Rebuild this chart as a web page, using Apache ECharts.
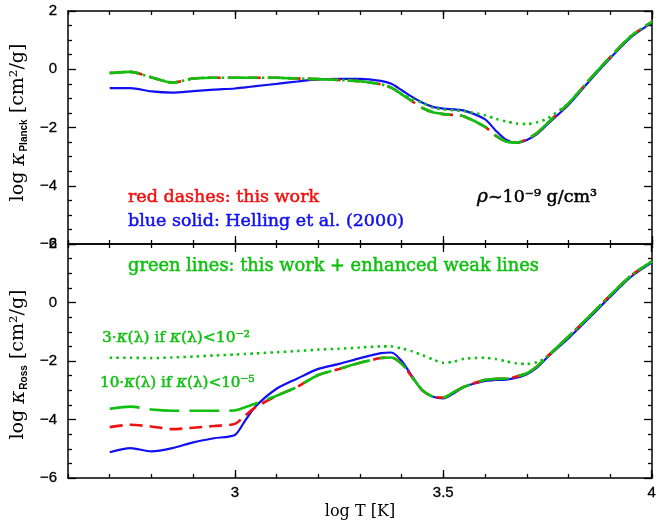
<!DOCTYPE html>
<html>
<head>
<meta charset="utf-8">
<script src="https://cdn.jsdelivr.net/npm/echarts@6/dist/echarts.min.js"></script>
<style>
  html, body { margin: 0; padding: 0; background: #fff; }
  #chart { width: 659px; height: 525px; }
</style>
</head>
<body>
<div id="chart"></div>
<script>
// log T grid shared by every curve
var logT = [2.70, 2.75, 2.80, 2.85, 2.90, 2.95, 3.00, 3.025, 3.05, 3.10, 3.15, 3.20, 3.25, 3.30, 3.35, 3.375,
  3.40, 3.425, 3.45, 3.475, 3.50, 3.525, 3.55, 3.60, 3.625, 3.65, 3.675, 3.70, 3.725, 3.75, 3.80, 3.85, 3.90, 3.95, 4.00]

// upper panel: log kappa Planck
var planckHelling = [-0.65, -0.65, -0.76, -0.80, -0.75, -0.70, -0.66, -0.62, -0.58, -0.50, -0.42, -0.35, -0.33, -0.33, -0.40, -0.50,
  -0.72, -0.95, -1.15, -1.29, -1.35, -1.38, -1.42, -1.72, -2.10, -2.42, -2.53, -2.43, -2.22, -1.88, -1.22, -0.40, 0.38, 1.10, 1.60]
var planckThis = [-0.13, -0.09, -0.28, -0.46, -0.32, -0.29, -0.29, -0.29, -0.29, -0.29, -0.32, -0.34, -0.37, -0.41, -0.52, -0.63,
  -0.86, -1.10, -1.33, -1.48, -1.54, -1.57, -1.62, -1.98, -2.28, -2.48, -2.52, -2.40, -2.18, -1.84, -1.17, -0.36, 0.42, 1.14, 1.63]
var planckEnhanced = planckThis
var planckDotted = [-0.13, -0.09, -0.28, -0.46, -0.32, -0.29, -0.29, -0.29, -0.29, -0.29, -0.32, -0.34, -0.37, -0.41, -0.52, -0.63,
  -0.86, -1.02, -1.16, -1.32, -1.38, -1.41, -1.44, -1.58, -1.70, -1.79, -1.86, -1.88, -1.82, -1.68, -1.17, -0.36, 0.42, 1.14, 1.63]

// lower panel: log kappa Rosseland
var rossHelling = [-5.12, -4.98, -5.09, -4.98, -4.78, -4.64, -4.53, -4.03, -3.55, -2.95, -2.60, -2.27, -2.10, -1.90, -1.73, -1.71,
  -2.00, -2.53, -3.01, -3.22, -3.28, -3.10, -2.88, -2.68, -2.65, -2.64, -2.57, -2.45, -2.22, -1.86, -1.22, -0.52, 0.20, 0.88, 1.37]
var rossThis = [-4.26, -4.18, -4.24, -4.33, -4.28, -4.22, -4.15, -3.86, -3.58, -3.19, -2.88, -2.48, -2.27, -2.06, -1.90, -1.88,
  -2.10, -2.55, -3.01, -3.22, -3.25, -3.06, -2.88, -2.64, -2.61, -2.60, -2.53, -2.42, -2.18, -1.83, -1.16, -0.47, 0.25, 0.92, 1.41]
var rossEnhanced = [-3.63, -3.56, -3.66, -3.70, -3.70, -3.70, -3.69, -3.58, -3.45, -3.19, -2.88, -2.48, -2.27, -2.06, -1.90, -1.88,
  -2.10, -2.55, -3.01, -3.22, -3.25, -3.06, -2.88, -2.64, -2.61, -2.60, -2.53, -2.42, -2.18, -1.83, -1.16, -0.47, 0.25, 0.92, 1.41]
var rossDotted = [-1.89, -1.89, -1.90, -1.88, -1.85, -1.81, -1.78, -1.76, -1.74, -1.70, -1.66, -1.61, -1.58, -1.54, -1.50, -1.50,
  -1.57, -1.67, -1.80, -1.95, -2.06, -2.02, -1.92, -1.89, -1.93, -2.01, -2.08, -2.10, -2.04, -1.85, -1.16, -0.47, 0.25, 0.92, 1.41]

// x range and ticks
var xMin = 2.6, xMax = 4.0
var xMajorStart = 3.0, xMajorStep = 0.5, xMinorStep = 0.1

var RED = '#f01010'
var BLUE = '#1010f0'
var GREEN = '#10c010'
var axisFont = 'Liberation Sans'
var textFont = 'DejaVu Serif'

// frame geometry
var W = 659, LEFT = 68, RIGHT = 7
var plotW = W - LEFT - RIGHT
// major-tick helper grids start where log T = 3
var majorLeft = LEFT + (xMajorStart - xMin) / (xMax - xMin) * plotW
var panels = [{ top: 11, height: 233 }, { top: 244, height: 234 }]

function pairs(ys) {
  return logT.map(function (t, i) { return [t, ys[i]] })
}

var tickStyle = { color: '#000', width: 1.3 }

function frameX(gridIndex, position) {
  return {
    gridIndex: gridIndex, type: 'value', position: position,
    min: xMin, max: xMax, interval: xMinorStep,
    splitLine: { show: false }, axisLabel: { show: false },
    axisLine: { show: true, onZero: false, lineStyle: { color: '#000', width: 1.5 } },
    axisTick: { show: true, inside: true, length: 4, lineStyle: tickStyle }
  }
}

function majorX(gridIndex, position, withLabels) {
  var ax = {
    gridIndex: gridIndex, type: 'value', position: position,
    min: xMajorStart, max: xMax, interval: xMajorStep,
    splitLine: { show: false },
    axisLine: { show: true, onZero: false, lineStyle: { color: 'rgba(0,0,0,0)' } },
    axisTick: { show: true, inside: true, length: 8, lineStyle: tickStyle },
    axisLabel: { show: false }
  }
  if (withLabels) {
    ax.axisLabel = {
      show: true, margin: 7, color: '#000', fontFamily: axisFont, fontSize: 15,
      textBorderColor: '#000', textBorderWidth: 0.3
    }
  }
  return ax
}

function yAxes(gridIndex, sub, pad) {
  var common = {
    gridIndex: gridIndex, type: 'value', min: -6, max: 2, interval: 2,
    splitLine: { show: false },
    axisLine: { show: true, onZero: false, lineStyle: { color: '#000', width: 1.5 } },
    axisTick: { show: true, inside: true, length: 8, lineStyle: tickStyle },
    minorTick: { show: true, splitNumber: 4, length: 4, lineStyle: tickStyle }
  }
  var left = Object.assign({}, common, {
    position: 'left',
    axisLabel: {
      color: '#000', fontFamily: axisFont, fontSize: 15, margin: 11,
      textBorderColor: '#000', textBorderWidth: 0.3,
      formatter: function (v) { return String(v).replace('-', '\u2212') }
    },
    name: '{a|log }{k|\u03ba}{s|' + sub + '}{a| [cm\u00b2/g]}',
    nameLocation: 'middle',
    nameGap: 35,
    nameTextStyle: {
      padding: pad,
      rich: {
        a: { fontFamily: textFont, fontSize: 19, color: '#000' },
        k: { fontFamily: textFont, fontSize: 20, fontStyle: 'italic', color: '#000' },
        s: { fontFamily: axisFont, fontSize: 10, fontWeight: 'bold', color: '#000', padding: [11, 0, 0, 1] }
      }
    }
  })
  var right = Object.assign({}, common, { position: 'right', axisLabel: { show: false } })
  return [left, right]
}

function hiddenY(gridIndex) {
  return { gridIndex: gridIndex, type: 'value', min: -6, max: 2, show: false }
}

function line(name, xi, yi, ys, color, type, width, z) {
  return {
    name: name, type: 'line', xAxisIndex: xi, yAxisIndex: yi,
    data: pairs(ys), showSymbol: false, smooth: 0.25, z: z,
    lineStyle: { color: color, type: type, width: width }
  }
}

function label(x, y, text, color, size) {
  return {
    type: 'text', x: x, y: y,
    style: {
      text: text, fill: color, font: size + 'px "DejaVu Serif"', verticalAlign: 'middle',
      stroke: color, lineWidth: 0.5,
      rich: { k: { fontStyle: 'italic', fontFamily: textFont, fontSize: size + 1, fill: color, stroke: color, lineWidth: 0.5 } }
    }
  }
}

var bottomFrame = frameX(1, 'bottom')
bottomFrame.name = 'log T [K]'
bottomFrame.nameLocation = 'middle'
bottomFrame.nameGap = 26
bottomFrame.nameTextStyle = { color: '#000', fontFamily: textFont, fontSize: 16 }

var chart = echarts.init(document.getElementById('chart'))
chart.setOption({
  animation: false,
  backgroundColor: '#fff',
  grid: [
    { left: LEFT, right: RIGHT, top: panels[0].top, height: panels[0].height },
    { left: LEFT, right: RIGHT, top: panels[1].top, height: panels[1].height },
    { left: majorLeft, right: RIGHT, top: panels[0].top, height: panels[0].height },
    { left: majorLeft, right: RIGHT, top: panels[1].top, height: panels[1].height }
  ],
  xAxis: [
    frameX(0, 'bottom'), frameX(0, 'top'),
    bottomFrame, frameX(1, 'top'),
    majorX(2, 'bottom', false), majorX(2, 'top', false),
    majorX(3, 'bottom', true), majorX(3, 'top', false)
  ],
  yAxis: yAxes(0, 'Planck', [0, 0, 0, 10]).concat(yAxes(1, 'Ross', [0, 7, 0, 0]), [hiddenY(2), hiddenY(3)]),
  series: [
    line('Helling Planck', 0, 0, planckHelling, BLUE, 'solid', 2.2, 2),
    line('this work Planck', 0, 0, planckThis, RED, [13, 7], 2.6, 3),
    line('enhanced Planck', 0, 0, planckEnhanced, GREEN, [30, 10], 2.6, 4),
    line('3x Planck', 0, 0, planckDotted, GREEN, [2.5, 4.2], 2.6, 5),
    line('Helling Ross', 2, 2, rossHelling, BLUE, 'solid', 2.2, 2),
    line('this work Ross', 2, 2, rossThis, RED, [13, 7], 2.6, 3),
    line('10x Ross', 2, 2, rossEnhanced, GREEN, [30, 10], 2.6, 4),
    line('3x Ross', 2, 2, rossDotted, GREEN, [2.5, 4.2], 2.6, 5)
  ],
  graphic: [
    label(128, 197, 'red dashes: this work', RED, 17.5),
    label(128, 221, 'blue solid: Helling et al. (2000)', BLUE, 17.5),
    label(477, 197, '{k|\u03c1}~10\u207b\u2079 g/cm\u00b3', '#000', 17.5),
    label(128, 266, 'green lines: this work + enhanced weak lines', GREEN, 17.8),
    label(102, 338, '3\u00b7{k|\u03ba}(\u03bb) if {k|\u03ba}(\u03bb)<10\u207b\u00b2', GREEN, 15.5),
    label(100, 383, '10\u00b7{k|\u03ba}(\u03bb) if {k|\u03ba}(\u03bb)<10\u207b\u2075', GREEN, 15.2)
  ]
})
</script>
</body>
</html>
